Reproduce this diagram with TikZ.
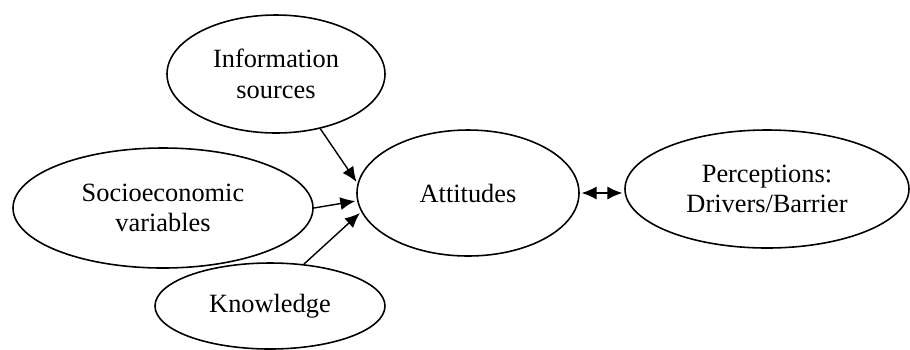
\documentclass[tikz,border=0pt]{standalone}
\usepackage{fontspec}
\setmainfont{Liberation Serif}
\usetikzlibrary{arrows.meta,shapes.geometric}

\begin{document}
\begin{tikzpicture}[->,>={Latex[length=3mm,width=2.6mm]},shorten >=1pt,line width=0.8pt,x=0.2mm,y=-0.2mm]
  \tikzstyle{factor}=[draw,ellipse,inner sep=0pt,align=center,line width=0.9pt,font=\fontsize{15}{17.5}\selectfont]
  \useasboundingbox (0,0) rectangle (910,349);
  \node[factor,minimum width=4.36cm,minimum height=2.36cm] (info)  at (276,74)  {Information\\sources};
  \node[factor,minimum width=6.0cm,minimum height=2.4cm]   (socio) at (163,208) {Socioeconomic\\variables};
  \node[factor,minimum width=4.6cm,minimum height=1.72cm]  (know)  at (270,306) {Knowledge};
  \node[factor,minimum width=4.44cm,minimum height=2.52cm] (att)   at (468,193) {Attitudes};
  \node[factor,minimum width=5.68cm,minimum height=2.36cm] (perc)  at (767,189) {Perceptions:\\Drivers/Barrier};
  \path (info.-51) edge (att.175)
        (socio.0)  edge (att.184)
        (know.51)  edge (att.190);
  \draw[<->,shorten <=1pt] (att.east) -- (att.east -| perc.west);
\end{tikzpicture}
\end{document}
